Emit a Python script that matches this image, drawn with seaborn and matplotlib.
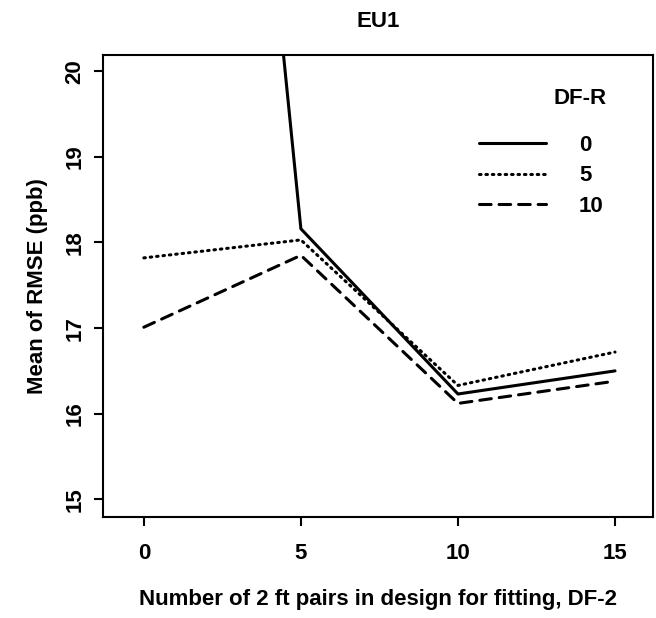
import pandas as pd
import seaborn as sns
import matplotlib.pyplot as plt

# values
df2 = [0, 5, 10, 15]
rmse_dfr0 = [36.5, 18.16, 16.23, 16.50]
rmse_dfr5 = [17.82, 18.03, 16.33, 16.72]
rmse_dfr10 = [17.01, 17.85, 16.12, 16.38]
dfr_levels = ['0', '5', '10']

data = pd.DataFrame({
    'DF-2': df2 * 3,
    'RMSE': rmse_dfr0 + rmse_dfr5 + rmse_dfr10,
    'DF-R': [lev for lev in dfr_levels for _ in df2],
})

sns.set_style('ticks')
plt.rcParams['font.family'] = ['Liberation Sans', 'DejaVu Sans']
plt.rcParams['font.size'] = 16
plt.rcParams['font.weight'] = 'bold'
plt.rcParams['text.color'] = 'black'
plt.rcParams['axes.labelcolor'] = 'black'
plt.rcParams['axes.labelweight'] = 'bold'
plt.rcParams['axes.titleweight'] = 'bold'

fig = plt.figure(figsize=(6.56, 6.18), dpi=100)
ax = fig.add_axes([0.157, 0.163, 0.838, 0.748])

sns.lineplot(data=data, x='DF-2', y='RMSE', style='DF-R', style_order=dfr_levels,
             dashes={'0': '', '5': (0.5, 1.6), '10': (3.8, 2.6)},
             color='black', linewidth=2.2, ax=ax)
for line in ax.get_lines():
    line.set_dash_capstyle('round')

ax.set_xlim(-1.3, 16.2)
ax.set_ylim(14.79, 20.19)
ax.set_xticks(df2)
ax.set_yticks([15, 16, 17, 18, 19, 20])
ax.tick_params(direction='out', length=6.5, width=1.5, labelsize=16, colors='black')
ax.tick_params(axis='x', pad=12)
ax.tick_params(axis='y', pad=6)
for lab in ax.get_yticklabels():
    lab.set_rotation(90)
    lab.set_va('center')
for sp in ax.spines.values():
    sp.set_visible(True)
    sp.set_linewidth(1.5)
    sp.set_color('black')

ax.set_xlabel('Number of 2 ft pairs in design for fitting, DF-2', fontsize=16, labelpad=18)
ax.set_ylabel('Mean of RMSE (ppb)', fontsize=16, labelpad=12)
ax.set_title('EU1', fontsize=16, pad=20)

handles, labels = ax.get_legend_handles_labels()
leg = ax.legend(handles, labels, frameon=False, loc='upper left',
                bbox_to_anchor=(468 / 656, 1 - 124 / 618), bbox_transform=fig.transFigure,
                borderpad=0, handlelength=3.0, handletextpad=1.5, labelspacing=0.42,
                fontsize=16)
fig.text(580 / 656, 1 - 98 / 618, 'DF-R', ha='center', va='center', fontsize=16)

fig.savefig('out.png', dpi=100)
